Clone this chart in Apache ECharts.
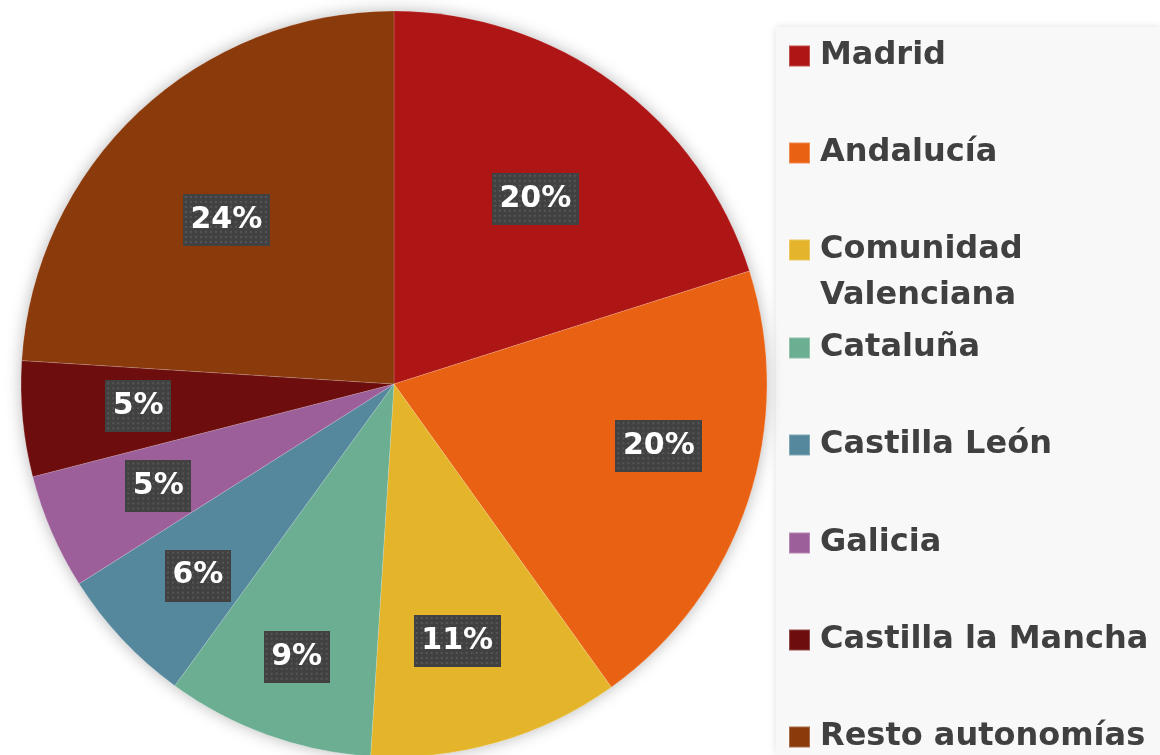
<!DOCTYPE html>
<html>
<head>
<meta charset="utf-8">
<script src="https://cdn.jsdelivr.net/npm/echarts@6/dist/echarts.min.js"></script>
<style>
  html, body { margin: 0; padding: 0; background: #fff; }
  #chart { width: 1160px; height: 755px; }
</style>
</head>
<body>
<div id="chart"></div>
<script>
const regions = ["Madrid", "Andalucía", "Comunidad Valenciana", "Cataluña", "Castilla León", "Galicia", "Castilla la Mancha", "Resto autonomías"];
const shares = [20.1, 20.0, 10.9, 9.0, 6.0, 5.0, 5.0, 24.0];
const colors = ["#ae1515", "#e96214", "#e4b52a", "#6bae91", "#55889c", "#9d5f9a", "#6e0d0d", "#8b3a0c"];
// small nudges so the boxes sit where the original placed them
const labelNudge = [[-11, 23], [20, -19], [-8, 9], [-10, 30], [-8, 15], [1, 0], [1, -2], [9, 24]];

const center = [394, 384];
const radius = 373;

// dotted dark tile for the label boxes
function dotTile(w, h) {
  const c = document.createElement("canvas");
  c.width = w;
  c.height = h;
  const ctx = c.getContext("2d");
  ctx.fillStyle = "#414141";
  ctx.fillRect(0, 0, w, h);
  ctx.fillStyle = "#565656";
  for (let y = 2; y < h; y += 5) {
    for (let x = 2; x < w; x += 5) ctx.fillRect(x, y, 2, 2);
  }
  return c;
}

function labelBox(w) {
  return {
    width: w,
    height: 52,
    lineHeight: 52,
    align: "center",
    color: "#fff",
    fontSize: 30,
    fontWeight: "bold",
    fontFamily: "DejaVu Sans",
    backgroundColor: { image: dotTile(w, 52) },
    shadowColor: "rgba(0,0,0,0.45)",
    shadowBlur: 5,
    shadowOffsetX: 3,
    shadowOffsetY: 3,
  };
}

const data = regions.map((name, i) => ({ name, value: shares[i], itemStyle: { color: colors[i] } }));

const legendText = {
  color: "#404040",
  fontSize: 32,
  fontWeight: "bold",
  fontFamily: "DejaVu Sans",
  lineHeight: 46,
};

const legendRowY = [54, 151, 248, 346, 443, 541, 638, 735];
const legends = regions.map((name, i) => {
  const twoLine = name === "Comunidad Valenciana";
  return {
    orient: "vertical",
    left: 788,
    top: legendRowY[i] - (twoLine ? 67 : 21),
    padding: 0,
    icon: "rect",
    itemWidth: 21,
    itemHeight: 21,
    selectedMode: false,
    data: [name],
    formatter: n => (twoLine ? "{e| }\n{t|Comunidad}\n{t|Valenciana}" : `{t|${n}}`),
    textStyle: {
      ...legendText,
      rich: {
        t: { ...legendText, padding: [0, 0, 0, 5] },
        e: { ...legendText },
      },
    },
  };
});

const chart = echarts.init(document.getElementById("chart"));

chart.setOption({
  animation: false,
  backgroundColor: "#ffffff",
  graphic: [{
    type: "rect",
    shape: { x: 776, y: 27, width: 384, height: 728 },
    style: { fill: "#f8f8f8", shadowColor: "rgba(0,0,0,0.12)", shadowBlur: 8 },
    z: -10,
  }],
  legend: legends,
  series: [
    {
      // soft shadow behind the whole disc
      type: "pie",
      center,
      radius,
      silent: true,
      z: 1,
      label: { show: false },
      itemStyle: { color: "#ffffff", shadowColor: "rgba(0,0,0,0.28)", shadowBlur: 16 },
      data: [{ name: "", value: 1 }],
    },
    {
      type: "pie",
      center,
      radius,
      startAngle: 90,
      z: 2,
      label: { show: false },
      labelLine: { show: false },
      itemStyle: { borderColor: "rgba(255,255,255,0.25)", borderWidth: 0.6 },
      emphasis: { disabled: true },
      data,
    },
    {
      // transparent carrier for the percent labels
      type: "pie",
      center,
      radius: [140, 370],
      startAngle: 90,
      silent: true,
      z: 3,
      itemStyle: { color: "rgba(0,0,0,0)" },
      labelLine: { show: false },
      label: {
        show: true,
        position: "inside",
        formatter: p => {
          const t = Math.round(p.percent) + "%";
          return `{${t.length > 2 ? "b" : "s"}|${t}}`;
        },
        rich: { b: labelBox(87), s: labelBox(66) },
      },
      data: regions.map((name, i) => ({ name, value: shares[i], label: { offset: labelNudge[i] } })),
    },
  ],
});
</script>
</body>
</html>
